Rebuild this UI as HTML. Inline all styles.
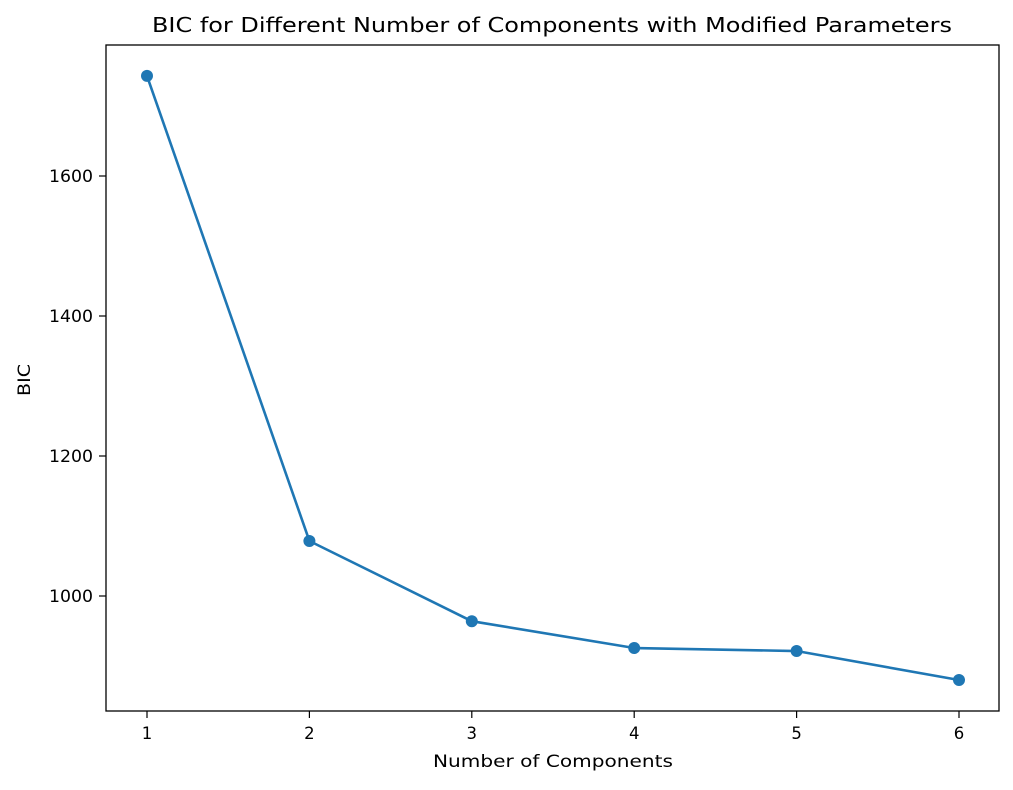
<!DOCTYPE html>
<html><head><meta charset="utf-8"><style>
body{margin:0;background:#fff;}
svg text{font-family:"DejaVu Sans","Liberation Sans",sans-serif;fill:#000;}
</style></head><body>
<svg id="chart" width="1013" height="785" xmlns="http://www.w3.org/2000/svg">
<rect x="0" y="0" width="1013" height="785" fill="#fff"/>
<text x="552" y="32" font-size="20" text-anchor="middle" textLength="800" lengthAdjust="spacingAndGlyphs">BIC for Different Number of Components with Modified Parameters</text>
<text x="553" y="767" font-size="17" text-anchor="middle" textLength="240" lengthAdjust="spacingAndGlyphs">Number of Components</text>
<text x="30" y="380" font-size="17" text-anchor="middle" textLength="32" lengthAdjust="spacingAndGlyphs" transform="rotate(-90 30 380)">BIC</text>
<g id="ticks"></g>
<g id="series"></g>
<rect x="106" y="45" width="893" height="666" fill="none" stroke="#000" stroke-width="1.3"/>
</svg>
<script>
const components = [1, 2, 3, 4, 5, 6];
const bicValues = [1743, 1078.6, 964, 925.7, 921.4, 880];
const yTicks = [1000, 1200, 1400, 1600];
const xTicks = [1, 2, 3, 4, 5, 6];
const NS = "http://www.w3.org/2000/svg";
function xs(v){return 147 + (v - 1) * 162.4;}
function ys(v){return 596 - (v - 1000) * 0.7;}
const tg = document.getElementById('ticks');
const sg = document.getElementById('series');
function mk(tag, attrs, parent){const e=document.createElementNS(NS,tag);for(const k in attrs)e.setAttribute(k,attrs[k]);parent.appendChild(e);return e;}
xTicks.forEach(t=>{
  const l=mk('line',{x1:xs(t),x2:xs(t),y1:711,y2:718,stroke:'#000','stroke-width':1.2},tg);
  
  
  const tx=mk('text',{x:xs(t),y:739,'font-size':16.5,'text-anchor':'middle'},tg);
  tx.textContent=t;
  
  
});
yTicks.forEach(t=>{
  const l=mk('line',{x1:99,x2:106,y1:ys(t),y2:ys(t),stroke:'#000','stroke-width':1.2},tg);
  
  
  const tx=mk('text',{x:93,y:ys(t)+6,'font-size':16.5,'text-anchor':'end',textLength:44,lengthAdjust:'spacingAndGlyphs'},tg);
  tx.textContent=t;
  
  
});
const pts=components.map((c,i)=>xs(c)+','+ys(bicValues[i])).join(' ');
const pl=mk('polyline',{points:pts,fill:'none',stroke:'#1f77b4','stroke-width':2.6},sg);


components.forEach((c,i)=>{
  const p=mk('circle',{cx:xs(c),cy:ys(bicValues[i]),r:6,fill:'#1f77b4'},sg);
  
  
});
</script>
</body></html>
